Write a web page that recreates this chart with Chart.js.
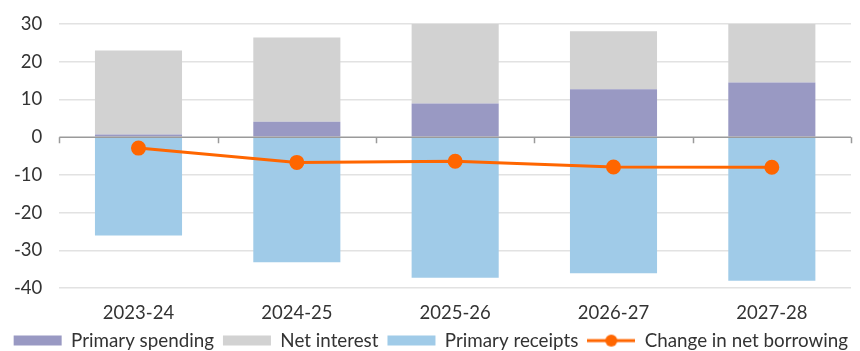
<!DOCTYPE html>
<html>
<head>
<meta charset="utf-8">
<script src="https://cdn.jsdelivr.net/npm/chart.js@4"></script>
<style>
  html, body { margin: 0; padding: 0; background: #fff; }
  #wrap { width: 860px; height: 351px; }
</style>
</head>
<body>
<div id="wrap"><canvas id="budget"></canvas></div>
<script>
const categories = ['2023-24', '2024-25', '2025-26', '2026-27', '2027-28']
const primarySpending = [0.7, 4.1, 8.9, 12.7, 14.5]
const netInterest = [22.3, 22.3, 21.5, 15.4, 15.5]
const primaryReceipts = [-26.1, -33.2, -37.3, -36.1, -38.1]
const netBorrowing = [-2.9, -6.7, -6.4, -7.9, -8.0]
const yTicks = [30, 20, 10, 0, -10, -20, -30, -40]

const orange = '#ff6600'
const textColor = '#333333'
const fontFamily = 'Lato, "DejaVu Sans", sans-serif'
const fontSize = 18.5

// little line-with-dot picture for the legend
function lineMarker(){
  const c = document.createElement('canvas')
  c.width = 48
  c.height = 14
  const g = c.getContext('2d')
  g.strokeStyle = orange
  g.lineWidth = 3
  g.beginPath()
  g.moveTo(0, 7)
  g.lineTo(48, 7)
  g.stroke()
  g.fillStyle = orange
  g.beginPath()
  g.arc(24, 7, 6, 0, Math.PI * 2)
  g.fill()
  return c
}
const marker = lineMarker()

// zero line with small ticks between categories
const zeroAxis = {
  id: 'zeroAxis',
  afterDatasetsDraw(chart){
    const x = chart.scales.x
    const y = chart.scales.y
    const ctx = chart.ctx
    const y0 = y.getPixelForValue(0)
    ctx.save()
    ctx.strokeStyle = '#9a9a9a'
    ctx.lineWidth = 1.5
    ctx.beginPath()
    ctx.moveTo(x.left, y0)
    ctx.lineTo(x.right, y0)
    const step = (x.right - x.left) / categories.length
    for(let i = 0; i <= categories.length; i++){
      const px = Math.round(x.left + i * step) + 0.5
      ctx.moveTo(px, y0)
      ctx.lineTo(px, y0 + 6)
    }
    ctx.stroke()
    ctx.restore()
  }
}

new Chart('budget', {
  type: 'bar',
  data: {
    labels: categories,
    datasets: [{
      label: 'Primary spending',
      data: primarySpending,
      backgroundColor: '#9999c3',
      stack: 's',
      order: 1
    }, {
      label: 'Net interest',
      data: netInterest,
      backgroundColor: '#d2d2d2',
      stack: 's',
      order: 1
    }, {
      label: 'Primary receipts',
      data: primaryReceipts,
      backgroundColor: '#a0cbe8',
      stack: 's',
      order: 1
    }, {
      type: 'line',
      label: 'Change in net borrowing',
      data: netBorrowing,
      borderColor: orange,
      backgroundColor: orange,
      borderWidth: 3,
      pointRadius: 6,
      pointHoverRadius: 6,
      pointStyle: 'circle',
      order: 0
    }]
  },
  plugins: [zeroAxis],
  options: {
    responsive: true,
    maintainAspectRatio: false,
    animation: false,
    datasets: {
      bar: { barPercentage: 0.55, categoryPercentage: 1 }
    },
    layout: {
      padding: { left: -3, right: 3, top: 24, bottom: -9 }
    },
    scales: {
      x: {
        stacked: true,
        grid: { display: false },
        border: { display: false },
        ticks: { color: textColor, font: { family: fontFamily, size: fontSize }, padding: 6 },
        afterFit: axis => { axis.height -= 8 }
      },
      y: {
        stacked: true,
        min: -40,
        max: 30,
        afterBuildTicks: axis => {
          axis.ticks = yTicks.map(v => ({ value: v }))
        },
        afterFit: axis => {
          axis.paddingTop = 0
          axis.paddingBottom = 0
        },
        grid: {
          color: ctx => ctx.tick && ctx.tick.value === 0 ? 'rgba(0,0,0,0)' : '#e2e2e2',
          lineWidth: 1.5,
          drawTicks: false
        },
        border: { display: false },
        ticks: { color: textColor, font: { family: fontFamily, size: fontSize }, padding: 17 }
      }
    },
    plugins: {
      tooltip: { enabled: false },
      legend: {
        position: 'bottom',
        align: 'end',
        labels: {
          color: textColor,
          font: { family: fontFamily, size: 18.8 },
          usePointStyle: true,
          pointStyleWidth: 48,
          boxWidth: 48,
          boxHeight: 10,
          padding: 9,
          sort: (a, b) => a.datasetIndex - b.datasetIndex,
          generateLabels: chart => {
            const items = Chart.defaults.plugins.legend.labels.generateLabels(chart)
            items.forEach(item => {
              if(item.datasetIndex === 3){
                item.pointStyle = marker
              } else {
                item.pointStyle = 'rect'
                item.lineWidth = 0
              }
            })
            return items
          }
        }
      }
    }
  }
})
</script>
</body>
</html>
